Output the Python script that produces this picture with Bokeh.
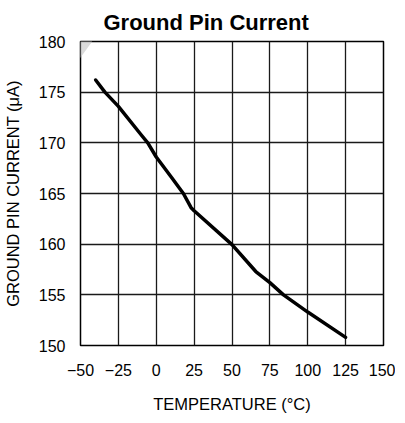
from bokeh.plotting import figure
from bokeh.models import Range1d, FixedTicker, PolyAnnotation
from bokeh.embed import file_html
from bokeh.resources import INLINE

# Data
temperature = [-40, -33.9, -25, -10, -5.6, 0, 10, 17.9, 23, 25, 50, 65.7, 75, 84, 100, 125]
current = [176.2, 175.0, 173.6, 170.8, 170.0, 168.6, 166.6, 165.0, 163.6, 163.3, 159.95, 157.3, 156.2, 155.0, 153.3, 150.8]

x_ticks = [-50, -25, 0, 25, 50, 75, 100, 125, 150]
x_tick_labels = ["\u221250", "\u221225", "0", "25", "50", "75", "100", "125", "150"]
y_ticks = [150, 155, 160, 165, 170, 175, 180]

FONT = "Liberation Sans"
W, H = 395, 415
BL, BR, BT, BB = 72, 12, 39, 66
X0, X1, Y0, Y1 = -50, 150, 150, 180

p = figure(width=W, height=H, output_backend="svg", toolbar_location=None,
           x_range=Range1d(X0, X1), y_range=Range1d(Y0, Y1),
           min_border_left=BL, min_border_right=BR, min_border_top=BT, min_border_bottom=BB)

p.title.text = "Ground Pin Current"
p.title.align = "left"
p.title.offset = 23
p.title.text_font = FONT
p.title.text_font_size = "22px"
p.title.text_font_style = "bold"
p.title.text_color = "black"
p.title.standoff = 14

p.line(temperature, current, line_color="black", line_width=3.5, line_cap="round", line_join="round")

for ax in (p.xaxis[0], p.yaxis[0]):
    ax.axis_line_color = None
    ax.major_tick_line_color = None
    ax.minor_tick_line_color = None
    ax.major_label_text_font = FONT
    ax.major_label_text_font_size = "16px"
    ax.major_label_text_color = "black"
    ax.axis_label_text_font = FONT
    ax.axis_label_text_font_size = "16.5px"
    ax.axis_label_text_font_style = "normal"
    ax.axis_label_text_color = "black"

p.xaxis.ticker = FixedTicker(ticks=x_ticks)
p.xaxis.major_label_overrides = {t: l for t, l in zip(x_ticks, x_tick_labels)}
p.yaxis.ticker = FixedTicker(ticks=y_ticks)
p.xaxis.axis_label = "TEMPERATURE (\u00b0C)"
p.yaxis.axis_label = "GROUND PIN CURRENT (\u03bcA)"
p.xaxis.major_label_standoff = 12
p.xaxis.axis_label_standoff = 16
p.yaxis.major_label_standoff = 9
p.yaxis.axis_label_standoff = 14

p.xgrid.ticker = FixedTicker(ticks=x_ticks)
p.ygrid.ticker = FixedTicker(ticks=y_ticks)
for g in (p.xgrid[0], p.ygrid[0]):
    g.grid_line_color = "#1a1a1a"
    g.grid_line_width = 1.3

p.outline_line_color = "black"
p.outline_line_width = 1.5

# faint watermark in the top-left corner: outline given in canvas pixels,
# converted to the frame's data space so the annotation can place it
wm_px = [(-8, 22), (17, -8), (35, 7), (5, 39), (27, 64), (62, 19), (84, 39), (-8, 165)]
fw = W - BL - BR
fh = H - BT - BB
wm_xs = [X0 + (cx - BL) * (X1 - X0) / fw for cx, cy in wm_px]
wm_ys = [Y1 - (cy - BT) * (Y1 - Y0) / fh for cx, cy in wm_px]
wm = PolyAnnotation(xs=wm_xs, ys=wm_ys, fill_color="#cccccc", fill_alpha=0.7,
                    line_color=None, level="overlay")
p.add_layout(wm)

open("out.html", "w").write(file_html(p, INLINE))
